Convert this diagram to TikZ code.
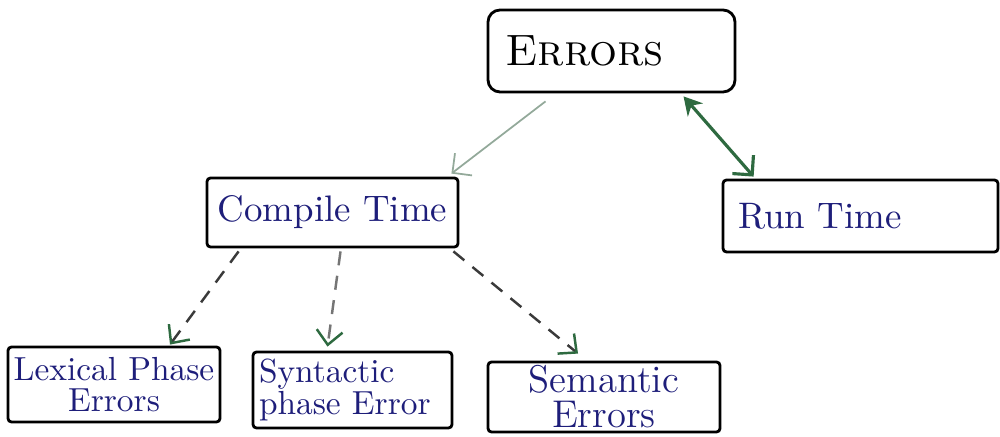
\documentclass[tikz,border=0pt]{standalone}
\usepackage{tikz}
\usetikzlibrary{arrows.meta,calc}

\definecolor{inkblue}{HTML}{1E1E7A}
\definecolor{inkgreen}{HTML}{2E6A40}
\definecolor{palegreen}{HTML}{93A99A}
\definecolor{dashgray}{HTML}{3A3A3A}

\tikzset{
  errbox/.style={draw=black, thick, rounded corners=1pt, inner xsep=0.08cm, inner ysep=0pt, text=inkblue},
  midfont/.style={font=\fontsize{10.5}{12}\selectfont},
  lowfont/.style={font=\fontsize{9.5}{9}\selectfont},
  solidarrow/.style={-{Straight Barb[length=1.4mm,width=2.8mm]}, line width=0.5pt},
  dasharrow/.style={dash pattern=on 4pt off 3pt, line width=0.7pt, dashgray, -{Straight Barb[length=1.4mm,width=2.6mm,color=inkgreen]}},
}

\begin{document}
\begin{tikzpicture}
  \useasboundingbox (0,0) rectangle (10,4.37);

  % top level
  \node[errbox, rounded corners=0.12cm, text=black, minimum width=2.47cm, minimum height=0.82cm, text width=2.13cm, inner xsep=0.17cm, align=left, font=\fontsize{12.5}{14}\selectfont] (errors) at (6.115,3.86) {\textsc{Errors}};

  % second level
  \node[errbox, midfont, minimum width=2.51cm, minimum height=0.69cm, text width=2.35cm, align=center] (compile) at (3.325,2.245) {Compile Time};
  \node[errbox, midfont, minimum width=2.75cm, minimum height=0.72cm, text width=2.45cm, inner xsep=0.15cm, align=left] (run) at (8.605,2.21) {Run Time};

  % third level
  \node[errbox, lowfont, minimum width=2.12cm, minimum height=0.75cm, text width=2.04cm, inner xsep=0.04cm, align=center] (lexical) at (1.14,0.525) {Lexical Phase\\Errors};
  \node[errbox, lowfont, minimum width=1.99cm, minimum height=0.76cm, text width=1.87cm, inner xsep=0.06cm, align=left] (syntactic) at (3.525,0.47) {Syntactic\\phase Error};
  \node[errbox, font=\fontsize{11}{10}\selectfont, minimum width=2.32cm, minimum height=0.70cm, text width=2.16cm, align=center] (semantic) at (6.04,0.40) {Semantic\\Errors};

  \draw[solidarrow, palegreen] ($(errors.south)+(-0.66,-0.08)$) -- ([xshift=-0.08cm,yshift=0.03cm]compile.north east);
  \draw[{Stealth[length=1.8mm,width=2mm]}-{Straight Barb[length=1.4mm,width=2.8mm]}, inkgreen, line width=0.9pt] ([xshift=0.72cm,yshift=-0.03cm]errors.south) -- ([xshift=0.32cm,yshift=0.02cm]run.north west);

  \draw[dasharrow] ([xshift=0.33cm,yshift=-0.03cm]compile.south west) -- ([xshift=0.56cm,yshift=0.01cm]lexical.north);
  \draw[dasharrow, dashgray!70] ([xshift=0.08cm,yshift=-0.03cm]compile.south) -- ([xshift=-0.25cm,yshift=0.04cm]syntactic.north);
  \draw[dasharrow] ([xshift=-0.06cm,yshift=-0.03cm]compile.south east) -- ([xshift=-0.26cm,yshift=0.07cm]semantic.north);
\end{tikzpicture}
\end{document}
